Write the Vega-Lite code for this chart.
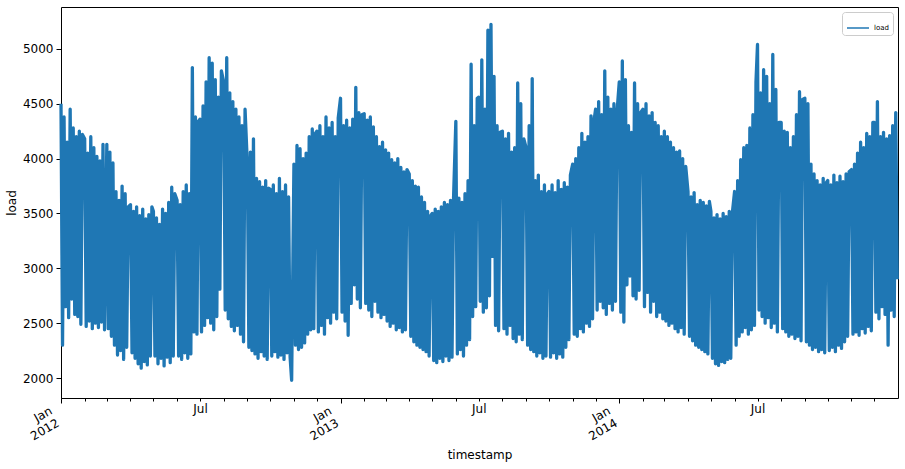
{
"$schema": "https://vega.github.io/schema/vega-lite/v6.json",
"width": 837,
"height": 391,
"autosize": "none",
"padding": {"left": 61, "top": 7, "right": 7, "bottom": 71},
"config": {
  "font": "DejaVu Sans",
  "view": {"stroke": "#000", "strokeWidth": 1},
  "axis": {"labelFont": "DejaVu Sans", "titleFont": "DejaVu Sans", "labelFontSize": 12, "titleFontSize": 12, "titleFontWeight": "normal", "labelColor": "#000", "titleColor": "#000", "tickColor": "#000", "domain": false, "grid": false},
  "legend": {"labelFont": "DejaVu Sans"}
},
"datasets": {
"main": [
{"timestamp":"2012-01-01","load":4500},{"timestamp":"2012-01-03","load":2300},{"timestamp":"2012-01-05","load":4380},{"timestamp":"2012-01-07","load":2650},{"timestamp":"2012-01-09","load":4150},{"timestamp":"2012-01-11","load":2550},{"timestamp":"2012-01-13","load":4450},{"timestamp":"2012-01-15","load":2720},{"timestamp":"2012-01-17","load":4280},{"timestamp":"2012-01-19","load":2580},{"timestamp":"2012-01-21","load":4200},{"timestamp":"2012-01-23","load":2560},{"timestamp":"2012-01-25","load":4250},{"timestamp":"2012-01-27","load":2490},{"timestamp":"2012-01-29","load":4220},
{"timestamp":"2012-02-01","load":4180},{"timestamp":"2012-02-03","load":2470},{"timestamp":"2012-02-05","load":4050},{"timestamp":"2012-02-07","load":2520},{"timestamp":"2012-02-09","load":4200},{"timestamp":"2012-02-11","load":2450},{"timestamp":"2012-02-13","load":4100},{"timestamp":"2012-02-15","load":2500},{"timestamp":"2012-02-17","load":4020},{"timestamp":"2012-02-19","load":2460},{"timestamp":"2012-02-21","load":3980},{"timestamp":"2012-02-23","load":2510},{"timestamp":"2012-02-25","load":4130},{"timestamp":"2012-02-27","load":2440},
{"timestamp":"2012-03-01","load":4130},{"timestamp":"2012-03-03","load":2450},{"timestamp":"2012-03-05","load":4060},{"timestamp":"2012-03-07","load":2380},{"timestamp":"2012-03-09","load":3960},{"timestamp":"2012-03-11","load":2300},{"timestamp":"2012-03-13","load":3700},{"timestamp":"2012-03-15","load":2210},{"timestamp":"2012-03-17","load":3620},{"timestamp":"2012-03-19","load":2250},{"timestamp":"2012-03-21","load":3750},{"timestamp":"2012-03-23","load":2170},{"timestamp":"2012-03-25","load":3680},{"timestamp":"2012-03-27","load":2280},{"timestamp":"2012-03-29","load":3560},
{"timestamp":"2012-04-01","load":3580},{"timestamp":"2012-04-03","load":2230},{"timestamp":"2012-04-05","load":3520},{"timestamp":"2012-04-07","load":2180},{"timestamp":"2012-04-09","load":3560},{"timestamp":"2012-04-11","load":2130},{"timestamp":"2012-04-13","load":3480},{"timestamp":"2012-04-15","load":2090},{"timestamp":"2012-04-17","load":3540},{"timestamp":"2012-04-19","load":2150},{"timestamp":"2012-04-21","load":3450},{"timestamp":"2012-04-23","load":2120},{"timestamp":"2012-04-25","load":3490},{"timestamp":"2012-04-27","load":2200},{"timestamp":"2012-04-29","load":3560},
{"timestamp":"2012-05-01","load":3520},{"timestamp":"2012-05-03","load":2200},{"timestamp":"2012-05-05","load":3460},{"timestamp":"2012-05-07","load":2130},{"timestamp":"2012-05-09","load":3400},{"timestamp":"2012-05-11","load":2180},{"timestamp":"2012-05-13","load":3540},{"timestamp":"2012-05-15","load":2110},{"timestamp":"2012-05-17","load":3500},{"timestamp":"2012-05-19","load":2190},{"timestamp":"2012-05-21","load":3600},{"timestamp":"2012-05-23","load":2140},{"timestamp":"2012-05-25","load":3740},{"timestamp":"2012-05-27","load":2200},{"timestamp":"2012-05-29","load":3680},
{"timestamp":"2012-06-01","load":3620},{"timestamp":"2012-06-03","load":2200},{"timestamp":"2012-06-05","load":3580},{"timestamp":"2012-06-07","load":2170},{"timestamp":"2012-06-09","load":3700},{"timestamp":"2012-06-11","load":2230},{"timestamp":"2012-06-13","load":3760},{"timestamp":"2012-06-15","load":2180},{"timestamp":"2012-06-17","load":3680},{"timestamp":"2012-06-19","load":2220},{"timestamp":"2012-06-21","load":4830},{"timestamp":"2012-06-23","load":2420},{"timestamp":"2012-06-25","load":4380},{"timestamp":"2012-06-27","load":2400},{"timestamp":"2012-06-29","load":4340},
{"timestamp":"2012-07-01","load":4360},{"timestamp":"2012-07-03","load":2420},{"timestamp":"2012-07-05","load":4480},{"timestamp":"2012-07-07","load":2480},{"timestamp":"2012-07-09","load":4700},{"timestamp":"2012-07-11","load":2550},{"timestamp":"2012-07-13","load":4920},{"timestamp":"2012-07-15","load":2500},{"timestamp":"2012-07-17","load":4870},{"timestamp":"2012-07-19","load":2440},{"timestamp":"2012-07-21","load":4720},{"timestamp":"2012-07-23","load":2560},{"timestamp":"2012-07-25","load":4560},{"timestamp":"2012-07-27","load":2810},{"timestamp":"2012-07-29","load":4800},
{"timestamp":"2012-08-01","load":4700},{"timestamp":"2012-08-03","load":2620},{"timestamp":"2012-08-05","load":4920},{"timestamp":"2012-08-07","load":2540},{"timestamp":"2012-08-09","load":4600},{"timestamp":"2012-08-11","load":2470},{"timestamp":"2012-08-13","load":4520},{"timestamp":"2012-08-15","load":2430},{"timestamp":"2012-08-17","load":4450},{"timestamp":"2012-08-19","load":2480},{"timestamp":"2012-08-21","load":4380},{"timestamp":"2012-08-23","load":2400},{"timestamp":"2012-08-25","load":4300},{"timestamp":"2012-08-27","load":2330},{"timestamp":"2012-08-29","load":4450},
{"timestamp":"2012-09-01","load":3950},{"timestamp":"2012-09-03","load":2280},{"timestamp":"2012-09-05","load":4060},{"timestamp":"2012-09-07","load":2250},{"timestamp":"2012-09-09","load":4180},{"timestamp":"2012-09-11","load":2220},{"timestamp":"2012-09-13","load":3820},{"timestamp":"2012-09-15","load":2180},{"timestamp":"2012-09-17","load":3790},{"timestamp":"2012-09-19","load":2240},{"timestamp":"2012-09-21","load":3740},{"timestamp":"2012-09-23","load":2200},{"timestamp":"2012-09-25","load":3800},{"timestamp":"2012-09-27","load":2170},{"timestamp":"2012-09-29","load":3730},
{"timestamp":"2012-10-01","load":3720},{"timestamp":"2012-10-03","load":2200},{"timestamp":"2012-10-05","load":3760},{"timestamp":"2012-10-07","load":2240},{"timestamp":"2012-10-09","load":3680},{"timestamp":"2012-10-11","load":2190},{"timestamp":"2012-10-13","load":3820},{"timestamp":"2012-10-15","load":2210},{"timestamp":"2012-10-17","load":3700},{"timestamp":"2012-10-19","load":2170},{"timestamp":"2012-10-21","load":3760},{"timestamp":"2012-10-23","load":2230},{"timestamp":"2012-10-25","load":3650},{"timestamp":"2012-10-27","load":2190},{"timestamp":"2012-10-29","load":1980},
{"timestamp":"2012-11-01","load":3950},{"timestamp":"2012-11-03","load":2300},{"timestamp":"2012-11-05","load":4120},{"timestamp":"2012-11-07","load":2260},{"timestamp":"2012-11-09","load":4090},{"timestamp":"2012-11-11","load":2280},{"timestamp":"2012-11-13","load":4000},{"timestamp":"2012-11-15","load":2320},{"timestamp":"2012-11-17","load":4050},{"timestamp":"2012-11-19","load":2400},{"timestamp":"2012-11-21","load":4200},{"timestamp":"2012-11-23","load":2440},{"timestamp":"2012-11-25","load":4270},{"timestamp":"2012-11-27","load":2450},{"timestamp":"2012-11-29","load":4230},
{"timestamp":"2012-12-01","load":4250},{"timestamp":"2012-12-03","load":2420},{"timestamp":"2012-12-05","load":4300},{"timestamp":"2012-12-07","load":2480},{"timestamp":"2012-12-09","load":4200},{"timestamp":"2012-12-11","load":2400},{"timestamp":"2012-12-13","load":4380},{"timestamp":"2012-12-15","load":2550},{"timestamp":"2012-12-17","load":4280},{"timestamp":"2012-12-19","load":2500},{"timestamp":"2012-12-21","load":4330},{"timestamp":"2012-12-23","load":2600},{"timestamp":"2012-12-25","load":4200},{"timestamp":"2012-12-27","load":2540},{"timestamp":"2012-12-29","load":4370},
{"timestamp":"2013-01-01","load":4550},{"timestamp":"2013-01-03","load":2600},{"timestamp":"2013-01-05","load":4300},{"timestamp":"2013-01-07","load":2520},{"timestamp":"2013-01-09","load":4350},{"timestamp":"2013-01-11","load":2390},{"timestamp":"2013-01-13","load":4280},{"timestamp":"2013-01-15","load":2680},{"timestamp":"2013-01-17","load":4360},{"timestamp":"2013-01-19","load":2850},{"timestamp":"2013-01-21","load":4650},{"timestamp":"2013-01-23","load":2720},{"timestamp":"2013-01-25","load":4420},{"timestamp":"2013-01-27","load":2640},{"timestamp":"2013-01-29","load":4400},
{"timestamp":"2013-02-01","load":4410},{"timestamp":"2013-02-03","load":2680},{"timestamp":"2013-02-05","load":4350},{"timestamp":"2013-02-07","load":2620},{"timestamp":"2013-02-09","load":4380},{"timestamp":"2013-02-11","load":2560},{"timestamp":"2013-02-13","load":4290},{"timestamp":"2013-02-15","load":2700},{"timestamp":"2013-02-17","load":4200},{"timestamp":"2013-02-19","load":2600},{"timestamp":"2013-02-21","load":4110},{"timestamp":"2013-02-23","load":2550},{"timestamp":"2013-02-25","load":4150},{"timestamp":"2013-02-27","load":2580},
{"timestamp":"2013-03-01","load":4080},{"timestamp":"2013-03-03","load":2520},{"timestamp":"2013-03-05","load":4050},{"timestamp":"2013-03-07","load":2470},{"timestamp":"2013-03-09","load":3990},{"timestamp":"2013-03-11","load":2500},{"timestamp":"2013-03-13","load":3960},{"timestamp":"2013-03-15","load":2440},{"timestamp":"2013-03-17","load":4000},{"timestamp":"2013-03-19","load":2460},{"timestamp":"2013-03-21","load":3920},{"timestamp":"2013-03-23","load":2420},{"timestamp":"2013-03-25","load":3880},{"timestamp":"2013-03-27","load":2440},{"timestamp":"2013-03-29","load":3900},
{"timestamp":"2013-04-01","load":3860},{"timestamp":"2013-04-03","load":2380},{"timestamp":"2013-04-05","load":3800},{"timestamp":"2013-04-07","load":2330},{"timestamp":"2013-04-09","load":3750},{"timestamp":"2013-04-11","load":2300},{"timestamp":"2013-04-13","load":3740},{"timestamp":"2013-04-15","load":2280},{"timestamp":"2013-04-17","load":3650},{"timestamp":"2013-04-19","load":2260},{"timestamp":"2013-04-21","load":3600},{"timestamp":"2013-04-23","load":2240},{"timestamp":"2013-04-25","load":3520},{"timestamp":"2013-04-27","load":2200},{"timestamp":"2013-04-29","load":3480},
{"timestamp":"2013-05-01","load":3500},{"timestamp":"2013-05-03","load":2160},{"timestamp":"2013-05-05","load":3540},{"timestamp":"2013-05-07","load":2140},{"timestamp":"2013-05-09","load":3520},{"timestamp":"2013-05-11","load":2180},{"timestamp":"2013-05-13","load":3560},{"timestamp":"2013-05-15","load":2150},{"timestamp":"2013-05-17","load":3600},{"timestamp":"2013-05-19","load":2200},{"timestamp":"2013-05-21","load":3580},{"timestamp":"2013-05-23","load":2160},{"timestamp":"2013-05-25","load":3620},{"timestamp":"2013-05-27","load":2190},{"timestamp":"2013-05-29","load":3640},
{"timestamp":"2013-06-01","load":4340},{"timestamp":"2013-06-03","load":2220},{"timestamp":"2013-06-05","load":3640},{"timestamp":"2013-06-07","load":2260},{"timestamp":"2013-06-09","load":3600},{"timestamp":"2013-06-11","load":2200},{"timestamp":"2013-06-13","load":3680},{"timestamp":"2013-06-15","load":2300},{"timestamp":"2013-06-17","load":3800},{"timestamp":"2013-06-19","load":2350},{"timestamp":"2013-06-21","load":4860},{"timestamp":"2013-06-23","load":2560},{"timestamp":"2013-06-25","load":4300},{"timestamp":"2013-06-27","load":2650},{"timestamp":"2013-06-29","load":4550},
{"timestamp":"2013-07-01","load":4560},{"timestamp":"2013-07-03","load":2700},{"timestamp":"2013-07-05","load":4900},{"timestamp":"2013-07-07","load":2600},{"timestamp":"2013-07-09","load":4450},{"timestamp":"2013-07-11","load":2640},{"timestamp":"2013-07-13","load":5170},{"timestamp":"2013-07-15","load":2750},{"timestamp":"2013-07-17","load":5224},{"timestamp":"2013-07-19","load":3110},{"timestamp":"2013-07-21","load":4750},{"timestamp":"2013-07-23","load":2480},{"timestamp":"2013-07-25","load":4300},{"timestamp":"2013-07-27","load":2430},{"timestamp":"2013-07-29","load":4240},
{"timestamp":"2013-08-01","load":4250},{"timestamp":"2013-08-03","load":2450},{"timestamp":"2013-08-05","load":4180},{"timestamp":"2013-08-07","load":2400},{"timestamp":"2013-08-09","load":4230},{"timestamp":"2013-08-11","load":2480},{"timestamp":"2013-08-13","load":4060},{"timestamp":"2013-08-15","load":2360},{"timestamp":"2013-08-17","load":4100},{"timestamp":"2013-08-19","load":2330},{"timestamp":"2013-08-21","load":4690},{"timestamp":"2013-08-23","load":2400},{"timestamp":"2013-08-25","load":4500},{"timestamp":"2013-08-27","load":2350},{"timestamp":"2013-08-29","load":4180},
{"timestamp":"2013-09-01","load":4100},{"timestamp":"2013-09-03","load":2300},{"timestamp":"2013-09-05","load":4300},{"timestamp":"2013-09-07","load":2260},{"timestamp":"2013-09-09","load":4730},{"timestamp":"2013-09-11","load":2240},{"timestamp":"2013-09-13","load":3800},{"timestamp":"2013-09-15","load":2200},{"timestamp":"2013-09-17","load":3850},{"timestamp":"2013-09-19","load":2230},{"timestamp":"2013-09-21","load":3700},{"timestamp":"2013-09-23","load":2180},{"timestamp":"2013-09-25","load":3760},{"timestamp":"2013-09-27","load":2200},{"timestamp":"2013-09-29","load":3680},
{"timestamp":"2013-10-01","load":3700},{"timestamp":"2013-10-03","load":2190},{"timestamp":"2013-10-05","load":3760},{"timestamp":"2013-10-07","load":2230},{"timestamp":"2013-10-09","load":3690},{"timestamp":"2013-10-11","load":2180},{"timestamp":"2013-10-13","load":3800},{"timestamp":"2013-10-15","load":2220},{"timestamp":"2013-10-17","load":3720},{"timestamp":"2013-10-19","load":2190},{"timestamp":"2013-10-21","load":3780},{"timestamp":"2013-10-23","load":2280},{"timestamp":"2013-10-25","load":3740},{"timestamp":"2013-10-27","load":2350},{"timestamp":"2013-10-29","load":3850},
{"timestamp":"2013-11-01","load":3950},{"timestamp":"2013-11-03","load":2400},{"timestamp":"2013-11-05","load":4000},{"timestamp":"2013-11-07","load":2380},{"timestamp":"2013-11-09","load":4100},{"timestamp":"2013-11-11","load":2450},{"timestamp":"2013-11-13","load":4230},{"timestamp":"2013-11-15","load":2420},{"timestamp":"2013-11-17","load":4150},{"timestamp":"2013-11-19","load":2500},{"timestamp":"2013-11-21","load":4200},{"timestamp":"2013-11-23","load":2470},{"timestamp":"2013-11-25","load":4390},{"timestamp":"2013-11-27","load":2540},{"timestamp":"2013-11-29","load":4350},
{"timestamp":"2013-12-01","load":4450},{"timestamp":"2013-12-03","load":2620},{"timestamp":"2013-12-05","load":4520},{"timestamp":"2013-12-07","load":2700},{"timestamp":"2013-12-09","load":4400},{"timestamp":"2013-12-11","load":2640},{"timestamp":"2013-12-13","load":4800},{"timestamp":"2013-12-15","load":2580},{"timestamp":"2013-12-17","load":4560},{"timestamp":"2013-12-19","load":2680},{"timestamp":"2013-12-21","load":4450},{"timestamp":"2013-12-23","load":2620},{"timestamp":"2013-12-25","load":4500},{"timestamp":"2013-12-27","load":2700},{"timestamp":"2013-12-29","load":4420},
{"timestamp":"2014-01-01","load":4700},{"timestamp":"2014-01-03","load":2600},{"timestamp":"2014-01-05","load":4890},{"timestamp":"2014-01-07","load":2510},{"timestamp":"2014-01-09","load":4720},{"timestamp":"2014-01-11","load":2850},{"timestamp":"2014-01-13","load":4300},{"timestamp":"2014-01-15","load":2930},{"timestamp":"2014-01-17","load":4240},{"timestamp":"2014-01-19","load":2750},{"timestamp":"2014-01-21","load":4690},{"timestamp":"2014-01-23","load":2720},{"timestamp":"2014-01-25","load":4500},{"timestamp":"2014-01-27","load":2800},{"timestamp":"2014-01-29","load":4420},
{"timestamp":"2014-02-01","load":4450},{"timestamp":"2014-02-03","load":2650},{"timestamp":"2014-02-05","load":4500},{"timestamp":"2014-02-07","load":2780},{"timestamp":"2014-02-09","load":4390},{"timestamp":"2014-02-11","load":2600},{"timestamp":"2014-02-13","load":4420},{"timestamp":"2014-02-15","load":2700},{"timestamp":"2014-02-17","load":4330},{"timestamp":"2014-02-19","load":2560},{"timestamp":"2014-02-21","load":4300},{"timestamp":"2014-02-23","load":2600},{"timestamp":"2014-02-25","load":4200},{"timestamp":"2014-02-27","load":2540},
{"timestamp":"2014-03-01","load":4250},{"timestamp":"2014-03-03","load":2520},{"timestamp":"2014-03-05","load":4200},{"timestamp":"2014-03-07","load":2480},{"timestamp":"2014-03-09","load":4150},{"timestamp":"2014-03-11","load":2500},{"timestamp":"2014-03-13","load":4100},{"timestamp":"2014-03-15","load":2450},{"timestamp":"2014-03-17","load":4060},{"timestamp":"2014-03-19","load":2420},{"timestamp":"2014-03-21","load":4070},{"timestamp":"2014-03-23","load":2460},{"timestamp":"2014-03-25","load":4000},{"timestamp":"2014-03-27","load":2400},{"timestamp":"2014-03-29","load":3930},
{"timestamp":"2014-04-01","load":3700},{"timestamp":"2014-04-03","load":2380},{"timestamp":"2014-04-05","load":3650},{"timestamp":"2014-04-07","load":2340},{"timestamp":"2014-04-09","load":3690},{"timestamp":"2014-04-11","load":2300},{"timestamp":"2014-04-13","load":3580},{"timestamp":"2014-04-15","load":2280},{"timestamp":"2014-04-17","load":3620},{"timestamp":"2014-04-19","load":2260},{"timestamp":"2014-04-21","load":3600},{"timestamp":"2014-04-23","load":2240},{"timestamp":"2014-04-25","load":3570},{"timestamp":"2014-04-27","load":2220},{"timestamp":"2014-04-29","load":3610},
{"timestamp":"2014-05-01","load":3520},{"timestamp":"2014-05-03","load":2180},{"timestamp":"2014-05-05","load":3460},{"timestamp":"2014-05-07","load":2130},{"timestamp":"2014-05-09","load":3490},{"timestamp":"2014-05-11","load":2115},{"timestamp":"2014-05-13","load":3450},{"timestamp":"2014-05-15","load":2150},{"timestamp":"2014-05-17","load":3500},{"timestamp":"2014-05-19","load":2140},{"timestamp":"2014-05-21","load":3470},{"timestamp":"2014-05-23","load":2170},{"timestamp":"2014-05-25","load":3520},{"timestamp":"2014-05-27","load":2180},{"timestamp":"2014-05-29","load":3500},
{"timestamp":"2014-06-01","load":3700},{"timestamp":"2014-06-03","load":2300},{"timestamp":"2014-06-05","load":3800},{"timestamp":"2014-06-07","load":2380},{"timestamp":"2014-06-09","load":3990},{"timestamp":"2014-06-11","load":2420},{"timestamp":"2014-06-13","load":4100},{"timestamp":"2014-06-15","load":2460},{"timestamp":"2014-06-17","load":4120},{"timestamp":"2014-06-19","load":2400},{"timestamp":"2014-06-21","load":4280},{"timestamp":"2014-06-23","load":2440},{"timestamp":"2014-06-25","load":4400},{"timestamp":"2014-06-27","load":2480},{"timestamp":"2014-06-29","load":4700},
{"timestamp":"2014-07-01","load":5040},{"timestamp":"2014-07-03","load":2620},{"timestamp":"2014-07-05","load":4600},{"timestamp":"2014-07-07","load":2560},{"timestamp":"2014-07-09","load":4810},{"timestamp":"2014-07-11","load":2500},{"timestamp":"2014-07-13","load":4750},{"timestamp":"2014-07-15","load":2550},{"timestamp":"2014-07-17","load":4500},{"timestamp":"2014-07-19","load":2460},{"timestamp":"2014-07-21","load":4950},{"timestamp":"2014-07-23","load":2500},{"timestamp":"2014-07-25","load":4630},{"timestamp":"2014-07-27","load":2420},{"timestamp":"2014-07-29","load":4330},
{"timestamp":"2014-08-01","load":4330},{"timestamp":"2014-08-03","load":2450},{"timestamp":"2014-08-05","load":4250},{"timestamp":"2014-08-07","load":2420},{"timestamp":"2014-08-09","load":4240},{"timestamp":"2014-08-11","load":2380},{"timestamp":"2014-08-13","load":4100},{"timestamp":"2014-08-15","load":2400},{"timestamp":"2014-08-17","load":4200},{"timestamp":"2014-08-19","load":2360},{"timestamp":"2014-08-21","load":4400},{"timestamp":"2014-08-23","load":2380},{"timestamp":"2014-08-25","load":4610},{"timestamp":"2014-08-27","load":2340},{"timestamp":"2014-08-29","load":4540},
{"timestamp":"2014-09-01","load":4550},{"timestamp":"2014-09-03","load":2330},{"timestamp":"2014-09-05","load":4500},{"timestamp":"2014-09-07","load":2300},{"timestamp":"2014-09-09","load":3950},{"timestamp":"2014-09-11","load":2260},{"timestamp":"2014-09-13","load":3860},{"timestamp":"2014-09-15","load":2280},{"timestamp":"2014-09-17","load":3800},{"timestamp":"2014-09-19","load":2240},{"timestamp":"2014-09-21","load":3760},{"timestamp":"2014-09-23","load":2260},{"timestamp":"2014-09-25","load":3820},{"timestamp":"2014-09-27","load":2230},{"timestamp":"2014-09-29","load":3780},
{"timestamp":"2014-10-01","load":3800},{"timestamp":"2014-10-03","load":2250},{"timestamp":"2014-10-05","load":3760},{"timestamp":"2014-10-07","load":2280},{"timestamp":"2014-10-09","load":3850},{"timestamp":"2014-10-11","load":2240},{"timestamp":"2014-10-13","load":3780},{"timestamp":"2014-10-15","load":2300},{"timestamp":"2014-10-17","load":3840},{"timestamp":"2014-10-19","load":2270},{"timestamp":"2014-10-21","load":3790},{"timestamp":"2014-10-23","load":2330},{"timestamp":"2014-10-25","load":3860},{"timestamp":"2014-10-27","load":2380},{"timestamp":"2014-10-29","load":3880},
{"timestamp":"2014-11-01","load":3900},{"timestamp":"2014-11-03","load":2400},{"timestamp":"2014-11-05","load":3950},{"timestamp":"2014-11-07","load":2420},{"timestamp":"2014-11-09","load":4050},{"timestamp":"2014-11-11","load":2390},{"timestamp":"2014-11-13","load":4150},{"timestamp":"2014-11-15","load":2450},{"timestamp":"2014-11-17","load":4100},{"timestamp":"2014-11-19","load":2410},{"timestamp":"2014-11-21","load":4230},{"timestamp":"2014-11-23","load":2470},{"timestamp":"2014-11-25","load":4200},{"timestamp":"2014-11-27","load":2430},{"timestamp":"2014-11-29","load":4330},
{"timestamp":"2014-12-01","load":4330},{"timestamp":"2014-12-03","load":2600},{"timestamp":"2014-12-05","load":4520},{"timestamp":"2014-12-07","load":2540},{"timestamp":"2014-12-09","load":4200},{"timestamp":"2014-12-11","load":2650},{"timestamp":"2014-12-13","load":4240},{"timestamp":"2014-12-15","load":2580},{"timestamp":"2014-12-17","load":4180},{"timestamp":"2014-12-19","load":2300},{"timestamp":"2014-12-21","load":4210},{"timestamp":"2014-12-23","load":2620},{"timestamp":"2014-12-25","load":4300},{"timestamp":"2014-12-27","load":2560},{"timestamp":"2014-12-29","load":4420},{"timestamp":"2014-12-31","load":2900}
],
"ends": [{"timestamp":"2012-01-01"},{"timestamp":"2014-12-31"}]
},
"layer": [
  {
    "data": {"name": "main"},
    "mark": {"type": "line", "strokeWidth": 3.3, "strokeJoin": "round", "strokeCap": "butt"},
    "encoding": {
      "x": {
        "field": "timestamp", "type": "temporal",
        "scale": {"type": "utc", "domain": [{"year": 2012, "month": 1, "date": 1, "utc": true}, {"year": 2014, "month": 12, "date": 31, "hours": 23, "utc": true}]},
        "axis": {
          "orient": "bottom",
          "values": [{"year": 2012, "month": 1, "date": 1, "utc": true}, {"year": 2013, "month": 1, "date": 1, "utc": true}, {"year": 2014, "month": 1, "date": 1, "utc": true}],
          "labelExpr": "['Jan', utcFormat(datum.value, '%Y')]",
          "labelAngle": -30, "labelAlign": "right", "labelBaseline": "top",
          "labelOffset": -13, "labelPadding": 2, "tickSize": 5, "labelLineHeight": 14,
          "labelFlush": false, "labelOverlap": false,
          "title": "timestamp", "titleY": 56, "titleBaseline": "middle"
        }
      },
      "y": {
        "field": "load", "type": "quantitative",
        "scale": {"domain": [1818, 5382], "nice": false, "zero": false},
        "axis": {"values": [2000, 2500, 3000, 3500, 4000, 4500, 5000], "format": "d", "tickSize": 5, "labelPadding": 3, "title": "load", "titlePadding": 4}
      },
      "color": {
        "datum": "load",
        "scale": {"range": ["#1f77b4"]},
        "legend": {"title": null, "orient": "top-right", "offset": 5, "symbolType": "stroke", "symbolSize": 484, "symbolStrokeWidth": 1.5, "labelFontSize": 7, "labelColor": "#000", "padding": 4, "strokeColor": "#cccccc", "fillColor": "#ffffff", "cornerRadius": 3}
      }
    }
  },
  {
    "data": {"name": "ends"},
    "mark": {"type": "point", "opacity": 0},
    "encoding": {
      "x": {
        "field": "timestamp", "type": "temporal",
        "axis": {
          "orient": "bottom",
          "tickCount": {"interval": "month", "step": 1},
          "labelExpr": "utcFormat(datum.value, '%m') == '07' ? 'Jul' : ''",
          "labelAngle": 0, "labelAlign": "center", "labelBaseline": "top",
          "tickSize": 3, "labelPadding": 2, "labelFlush": false, "labelOverlap": false,
          "title": null
        }
      }
    }
  }
],
"resolve": {"axis": {"x": "independent"}}
}
